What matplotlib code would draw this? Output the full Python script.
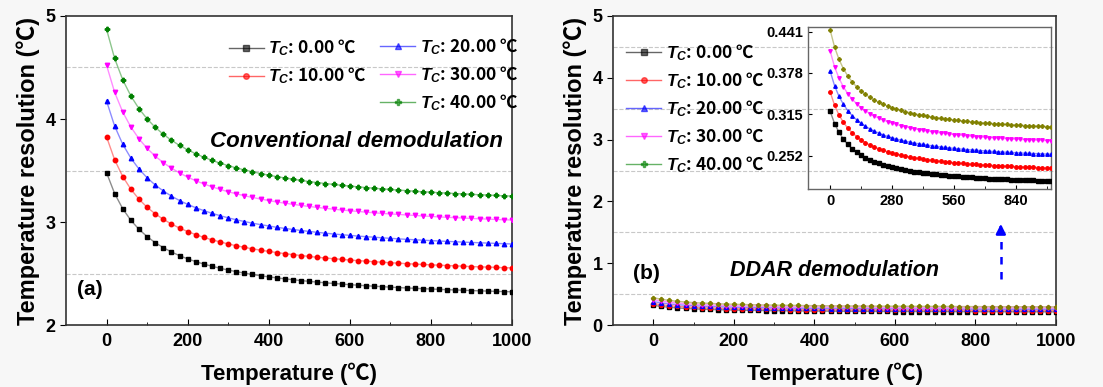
import matplotlib
matplotlib.use('Agg')
import numpy as np
import matplotlib.pyplot as plt
from matplotlib.lines import Line2D

plt.rcParams['font.family'] = ['Liberation Sans', 'Noto Sans CJK SC', 'DejaVu Sans']
plt.rcParams['font.weight'] = 'bold'
plt.rcParams['mathtext.fontset'] = 'custom'
plt.rcParams['mathtext.it'] = 'Liberation Sans:italic:bold'
plt.rcParams['mathtext.rm'] = 'Liberation Sans:bold'
plt.rcParams['mathtext.bf'] = 'Liberation Sans:bold'

temp = list(range(0, 1001, 20))
labels = ['0.00', '10.00', '20.00', '30.00', '40.00']

# conventional demodulation, panel (a)
conv_0 = [3.480, 3.277, 3.129, 3.017, 2.930, 2.859, 2.800, 2.752, 2.710, 2.674, 2.643, 2.616, 2.592, 2.571, 2.552, 2.534,
          2.519, 2.504, 2.491, 2.479, 2.468, 2.458, 2.449, 2.440, 2.432, 2.424, 2.417, 2.410, 2.404, 2.398, 2.392, 2.387,
          2.382, 2.377, 2.373, 2.368, 2.364, 2.360, 2.357, 2.353, 2.350, 2.347, 2.343, 2.341, 2.338, 2.335, 2.332, 2.330,
          2.327, 2.325, 2.323]
conv_10 = [3.828, 3.605, 3.442, 3.319, 3.222, 3.144, 3.080, 3.027, 2.981, 2.942, 2.908, 2.878, 2.851, 2.828, 2.807, 2.788,
           2.770, 2.755, 2.740, 2.727, 2.715, 2.704, 2.693, 2.684, 2.675, 2.666, 2.658, 2.651, 2.644, 2.638, 2.631, 2.626,
           2.620, 2.615, 2.610, 2.605, 2.601, 2.596, 2.592, 2.588, 2.585, 2.581, 2.578, 2.575, 2.571, 2.568, 2.565, 2.563,
           2.560, 2.557, 2.555]
conv_20 = [4.176, 3.932, 3.755, 3.621, 3.515, 3.430, 3.360, 3.302, 3.252, 3.209, 3.172, 3.139, 3.111, 3.085, 3.062, 3.041,
           3.022, 3.005, 2.989, 2.975, 2.962, 2.949, 2.938, 2.928, 2.918, 2.909, 2.900, 2.892, 2.884, 2.877, 2.871, 2.864,
           2.858, 2.853, 2.847, 2.842, 2.837, 2.832, 2.828, 2.824, 2.820, 2.816, 2.812, 2.809, 2.805, 2.802, 2.799, 2.796,
           2.793, 2.790, 2.787]
conv_30 = [4.524, 4.260, 4.068, 3.923, 3.808, 3.716, 3.640, 3.577, 3.523, 3.477, 3.436, 3.401, 3.370, 3.342, 3.317, 3.294,
           3.274, 3.255, 3.239, 3.223, 3.209, 3.195, 3.183, 3.172, 3.161, 3.151, 3.142, 3.133, 3.125, 3.117, 3.110, 3.103,
           3.096, 3.090, 3.084, 3.079, 3.074, 3.069, 3.064, 3.059, 3.055, 3.050, 3.046, 3.043, 3.039, 3.035, 3.032, 3.029,
           3.025, 3.022, 3.020]
conv_40 = [4.872, 4.588, 4.381, 4.224, 4.101, 4.002, 3.920, 3.852, 3.794, 3.744, 3.701, 3.663, 3.629, 3.599, 3.572, 3.548,
           3.526, 3.506, 3.488, 3.471, 3.455, 3.441, 3.428, 3.416, 3.404, 3.393, 3.383, 3.374, 3.365, 3.357, 3.349, 3.342,
           3.335, 3.328, 3.322, 3.316, 3.310, 3.305, 3.299, 3.294, 3.290, 3.285, 3.281, 3.277, 3.273, 3.269, 3.265, 3.262,
           3.258, 3.255, 3.252]

# DDAR demodulation, panel (b) and inset
ddar_0 = [0.3195, 0.3008, 0.2873, 0.2770, 0.2689, 0.2624, 0.2571, 0.2526, 0.2488, 0.2455, 0.2427, 0.2402, 0.2380, 0.2360,
          0.2342, 0.2326, 0.2312, 0.2299, 0.2287, 0.2276, 0.2266, 0.2256, 0.2248, 0.2240, 0.2232, 0.2225, 0.2219, 0.2212,
          0.2207, 0.2201, 0.2196, 0.2191, 0.2187, 0.2182, 0.2178, 0.2174, 0.2170, 0.2167, 0.2163, 0.2160, 0.2157, 0.2154,
          0.2151, 0.2149, 0.2146, 0.2143, 0.2141, 0.2139, 0.2136, 0.2134, 0.2132]
ddar_10 = [0.3490, 0.3287, 0.3139, 0.3026, 0.2938, 0.2867, 0.2809, 0.2760, 0.2718, 0.2682, 0.2651, 0.2624, 0.2600, 0.2578,
           0.2559, 0.2542, 0.2526, 0.2512, 0.2499, 0.2487, 0.2476, 0.2465, 0.2456, 0.2447, 0.2439, 0.2431, 0.2424, 0.2417,
           0.2411, 0.2405, 0.2399, 0.2394, 0.2389, 0.2384, 0.2380, 0.2375, 0.2371, 0.2368, 0.2364, 0.2360, 0.2357, 0.2354,
           0.2350, 0.2348, 0.2345, 0.2342, 0.2339, 0.2337, 0.2334, 0.2332, 0.2330]
ddar_20 = [0.3807, 0.3585, 0.3423, 0.3301, 0.3205, 0.3127, 0.3064, 0.3010, 0.2965, 0.2926, 0.2892, 0.2862, 0.2836, 0.2812,
           0.2791, 0.2772, 0.2755, 0.2740, 0.2725, 0.2712, 0.2700, 0.2689, 0.2679, 0.2669, 0.2660, 0.2652, 0.2644, 0.2637,
           0.2630, 0.2623, 0.2617, 0.2611, 0.2606, 0.2601, 0.2596, 0.2591, 0.2587, 0.2582, 0.2578, 0.2574, 0.2571, 0.2567,
           0.2564, 0.2560, 0.2557, 0.2554, 0.2551, 0.2549, 0.2546, 0.2543, 0.2541]
ddar_30 = [0.4113, 0.3873, 0.3699, 0.3567, 0.3463, 0.3379, 0.3310, 0.3252, 0.3203, 0.3161, 0.3124, 0.3092, 0.3064, 0.3039,
           0.3016, 0.2995, 0.2977, 0.2960, 0.2945, 0.2930, 0.2917, 0.2905, 0.2894, 0.2884, 0.2874, 0.2865, 0.2857, 0.2849,
           0.2841, 0.2834, 0.2828, 0.2821, 0.2815, 0.2810, 0.2804, 0.2799, 0.2795, 0.2790, 0.2786, 0.2781, 0.2778, 0.2774,
           0.2770, 0.2767, 0.2763, 0.2760, 0.2757, 0.2754, 0.2751, 0.2748, 0.2745]
ddar_40 = [0.4434, 0.4175, 0.3987, 0.3844, 0.3732, 0.3642, 0.3568, 0.3505, 0.3453, 0.3407, 0.3368, 0.3333, 0.3302, 0.3275,
           0.3251, 0.3229, 0.3209, 0.3190, 0.3174, 0.3159, 0.3144, 0.3131, 0.3119, 0.3108, 0.3098, 0.3088, 0.3079, 0.3070,
           0.3062, 0.3055, 0.3048, 0.3041, 0.3035, 0.3028, 0.3023, 0.3017, 0.3012, 0.3007, 0.3002, 0.2998, 0.2994, 0.2989,
           0.2986, 0.2982, 0.2978, 0.2975, 0.2971, 0.2968, 0.2965, 0.2962, 0.2959]

inset_ticks = [0.252, 0.315, 0.378, 0.441]

conv = [conv_0, conv_10, conv_20, conv_30, conv_40]
ddar = [ddar_0, ddar_10, ddar_20, ddar_30, ddar_40]
colors = ['black', 'red', 'blue', 'magenta', 'green']
ddar_colors = ['black', 'red', 'blue', 'magenta', 'olive']
markers = ['s', 'o', '^', 'v', 'P']
deg = '\u2103'

fig = plt.figure(figsize=(11.03, 3.87), dpi=100, facecolor='#f7f7f7')
ax1 = fig.add_axes([0.0598, 0.160, 0.4044, 0.7987])
ax2 = fig.add_axes([0.5558, 0.160, 0.4016, 0.7987])
ins = fig.add_axes([0.7326, 0.5116, 0.2203, 0.4186])


def style(ax, ylim, yticks, fs=13):
    ax.set_facecolor('white')
    ax.set_xlim(-100, 1000)
    ax.set_ylim(*ylim)
    ax.set_xticks([0, 200, 400, 600, 800, 1000])
    ax.set_xticks([100, 300, 500, 700, 900], minor=True)
    ax.set_yticks(yticks)
    ax.tick_params(axis='x', which='major', direction='in', length=4, labelsize=fs, pad=6)
    ax.tick_params(axis='x', which='minor', direction='in', length=2)
    ax.tick_params(axis='y', which='major', direction='out', length=4, labelsize=fs)
    for lab in ax.get_xticklabels() + ax.get_yticklabels():
        lab.set_fontweight('bold')
    for sp in ax.spines.values():
        sp.set_linewidth(1.2)
        sp.set_color('#333333')


for k in range(5):
    ax1.plot(temp, conv[k], color=colors[k], lw=1, alpha=0.45, zorder=2)
    ax1.plot(temp, conv[k], ls='none', marker=markers[k], ms=3.2, color=colors[k], zorder=3)
    ax2.plot(temp, ddar[k], color=ddar_colors[k], lw=1, alpha=0.45, zorder=2)
    ax2.plot(temp, ddar[k], ls='none', marker=markers[k], ms=2.8, color=ddar_colors[k], zorder=3)
    ins.plot(temp, ddar[k], color=ddar_colors[k], lw=1, alpha=0.45, zorder=2)
    ins.plot(temp, ddar[k], ls='none', marker=markers[k], ms=2.5, color=ddar_colors[k], zorder=3)

style(ax1, (2, 5), [2, 3, 4, 5])
style(ax2, (0, 5), [0, 1, 2, 3, 4, 5])
for ax, minor in [(ax1, [2.5, 3.5, 4.5]), (ax2, [0.5, 1.5, 2.5, 3.5, 4.5])]:
    ax.set_yticks(minor, minor=True)
    ax.tick_params(axis='y', which='minor', length=0)
    ax.grid(axis='y', which='minor', ls='--', color='#c8c8c8', lw=0.8)
    ax.set_axisbelow(True)
    ax.set_xlabel('Temperature (' + deg + ')', fontsize=16, fontweight='bold', labelpad=9)
    ax.set_ylabel('Temperature resolution (' + deg + ')', fontsize=17, fontweight='bold', labelpad=4)

# inset
ins.set_facecolor('none')
ins.set_xlim(-100, 1000)
ins.set_ylim(0.201, 0.448)
ins.set_xticks([0, 280, 560, 840])
ins.set_xticks([140, 420, 700, 980], minor=True)
ins.set_yticks(inset_ticks)
ins.set_yticklabels([f'{v:.3f}' for v in inset_ticks])
ins.tick_params(axis='both', which='major', direction='in', length=3, labelsize=10.5)
ins.tick_params(axis='x', which='minor', direction='in', length=2)
for lab in ins.get_xticklabels() + ins.get_yticklabels():
    lab.set_fontweight('bold')
for sp in ins.spines.values():
    sp.set_color('#666666')
    sp.set_linewidth(1)

# legends
def handle(k, c):
    return Line2D([], [], color=c, lw=1, alpha=0.6, marker=markers[k], ms=4,
                  markerfacecolor=c, markeredgecolor=c)

texts = ['$T_C$: ' + lb + ' ' + deg for lb in labels]
leg_kw = dict(frameon=False, handlelength=2.0, handletextpad=0.25, labelspacing=0.42,
              prop={'family': 'Noto Sans CJK SC', 'weight': 'bold', 'size': 12.5})
legA1 = ax1.legend([handle(k, colors[k]) for k in (0, 1)], [texts[k] for k in (0, 1)],
                   loc='upper left', bbox_to_anchor=(0.33, 0.98), **leg_kw)
ax1.add_artist(legA1)
ax1.legend([handle(k, colors[k]) for k in (2, 3, 4)], [texts[k] for k in (2, 3, 4)],
           loc='upper left', bbox_to_anchor=(0.67, 0.985), **leg_kw)
ax2.legend([handle(k, colors[k]) for k in range(5)], texts,
           loc='upper left', bbox_to_anchor=(-0.005, 0.965), **leg_kw)

ax1.text(616, 3.78, 'Conventional demodulation', fontsize=16, fontweight='bold', style='italic',
         ha='center', va='center')
ax1.text(-72, 2.35, '(a)', fontsize=15, fontweight='bold', ha='left', va='center')
ax2.text(450, 0.89, 'DDAR demodulation', fontsize=15.5, fontweight='bold', style='italic',
         ha='center', va='center')
ax2.text(-50, 0.84, '(b)', fontsize=15, fontweight='bold', ha='left', va='center')

# dashed arrow pointing to the inset
ax2.plot([863, 863], [0.74, 1.5], ls=(0, (3, 3)), color='blue', lw=1.8)
ax2.annotate('', xy=(863, 1.68), xytext=(863, 1.5),
             arrowprops=dict(arrowstyle='-|>', color='blue', lw=1.8, mutation_scale=14))

fig.savefig('out.png', dpi=100, facecolor=fig.get_facecolor())
